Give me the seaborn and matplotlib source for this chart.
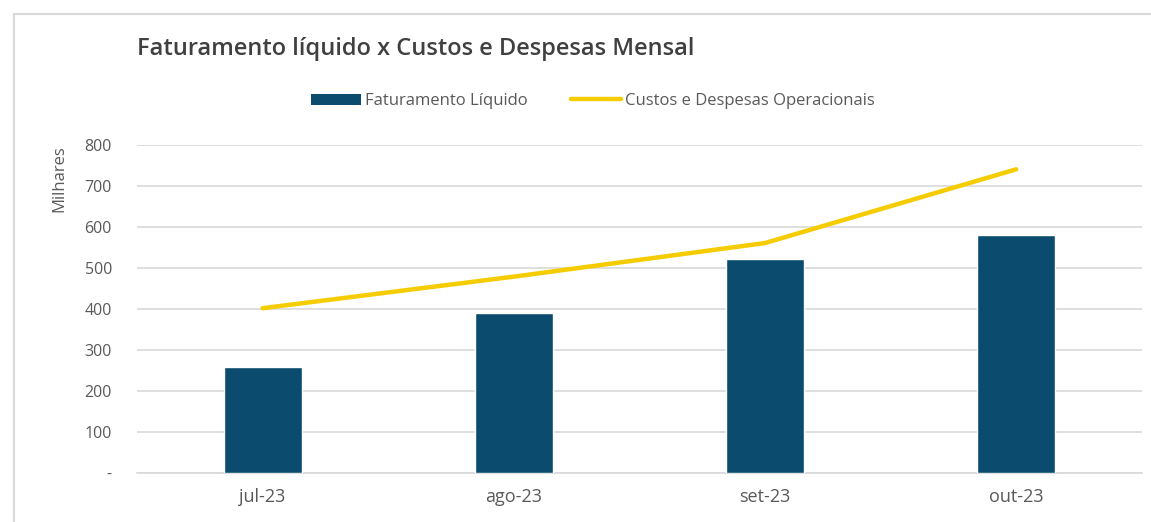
import matplotlib
matplotlib.use("Agg")
import matplotlib.pyplot as plt
import matplotlib.ticker as ticker
from matplotlib.lines import Line2D
from matplotlib.patches import Patch
import pandas as pd
import seaborn as sns

# dados (milhares)
meses = ["jul-23", "ago-23", "set-23", "out-23"]
faturamento_liquido = [258, 390, 522, 580]
custos_despesas = [402, 479, 561, 741]

df = pd.DataFrame({"mes": meses,
                   "faturamento": faturamento_liquido,
                   "custos": custos_despesas})

cor_barra = "#0B4C6E"
cor_linha = "#F5CC00"
cor_texto = "#595959"

sns.set_style("white")
plt.rcParams["font.family"] = ["Open Sans", "DejaVu Sans"]

fig = plt.figure(figsize=(11.51, 5.22), dpi=100)
ax = fig.add_axes([0.119, 0.094, 0.873, 0.628])

sns.barplot(data=df, x="mes", y="faturamento", color=cor_barra, width=0.31,
            saturation=1, ax=ax, zorder=3)
sns.lineplot(x=list(range(len(meses))), y=df["custos"], color=cor_linha,
             linewidth=3.2, ax=ax, zorder=4)

ax.set_xlim(-0.5, len(meses) - 0.5)
ax.set_ylim(0, 800)
ax.set_yticks(range(0, 801, 100))
ax.yaxis.set_major_formatter(ticker.FuncFormatter(lambda v, p: "-" if v == 0 else f"{v:.0f}"))
ax.grid(True, axis="y", color="#D9D9D9", linewidth=1.2, zorder=0)
ax.set_axisbelow(True)

for lado in ["top", "right", "left"]:
    ax.spines[lado].set_visible(False)
ax.spines["bottom"].set_color("#D9D9D9")
ax.spines["bottom"].set_linewidth(1.2)

ax.tick_params(axis="y", length=0, labelsize=11.5, labelcolor=cor_texto, pad=18)
ax.tick_params(axis="x", which="major", length=0, labelsize=13, labelcolor=cor_texto, pad=11)
ax.set_xticks([-0.5, 0.5, 1.5, 2.5, 3.5], minor=True)
ax.tick_params(axis="x", which="minor", length=5, color="#D9D9D9", width=1.2)

ax.set_xlabel("")
ax.set_ylabel("Milhares", fontsize=12, color=cor_texto, loc="top")
ax.yaxis.set_label_coords(-0.069, 1.0)

fig.text(0.119, 0.907, "Faturamento líquido x Custos e Despesas Mensal",
         fontsize=17, fontweight="semibold", color="#404040", va="center", ha="left")

handles = [Patch(facecolor=cor_barra, edgecolor="none"),
           Line2D([0], [0], color=cor_linha, linewidth=3.2)]
fig.legend(handles, ["Faturamento Líquido", "Custos e Despesas Operacionais"],
           loc="center", bbox_to_anchor=(0.515, 0.806), ncol=2, frameon=False,
           fontsize=12, labelcolor=cor_texto, handlelength=3.0, handletextpad=0.25,
           columnspacing=2.6)

# moldura do gráfico
fig.add_artist(Line2D([0.012, 0.012], [0, 0.974], color="#D9D9D9", linewidth=1.5,
                      transform=fig.transFigure))
fig.add_artist(Line2D([0.012, 1], [0.974, 0.974], color="#D9D9D9", linewidth=1.5,
                      transform=fig.transFigure))

fig.savefig("out.png", dpi=100)
